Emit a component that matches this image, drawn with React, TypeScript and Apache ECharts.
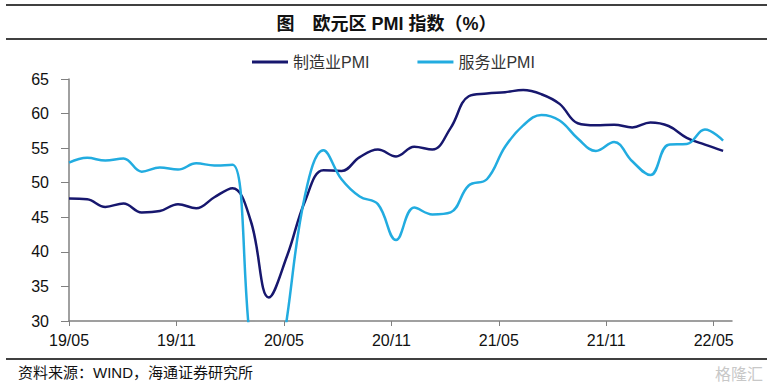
import React, { useEffect, useRef } from "react";
import * as echarts from "echarts";

// ---- data ----
const months: string[] = [
  "19/05", "19/06", "19/07", "19/08", "19/09", "19/10", "19/11", "19/12",
  "20/01", "20/02", "20/03", "20/04", "20/05", "20/06", "20/07", "20/08",
  "20/09", "20/10", "20/11", "20/12", "21/01", "21/02", "21/03", "21/04",
  "21/05", "21/06", "21/07", "21/08", "21/09", "21/10", "21/11", "21/12",
  "22/01", "22/02", "22/03", "22/04", "22/05",
];
const manufacturing: number[] = [
  47.7, 47.6, 46.5, 47.0, 45.7, 45.9, 46.9, 46.3, 47.9, 49.2, 44.5, 33.4,
  39.4, 47.4, 51.8, 51.7, 53.7, 54.8, 53.8, 55.2, 54.8, 57.9, 62.5, 62.9,
  63.1, 63.4, 62.8, 61.4, 58.6, 58.3, 58.4, 58.0, 58.7, 58.2, 56.5, 55.5,
  54.6,
];
const services: number[] = [
  52.9, 53.6, 53.2, 53.5, 51.6, 52.2, 51.9, 52.8, 52.5, 52.6, 26.4, 12.0,
  30.5, 48.3, 54.7, 50.5, 48.0, 46.9, 41.7, 46.4, 45.4, 45.7, 49.6, 50.5,
  55.2, 58.3, 59.8, 59.0, 56.4, 54.6, 55.9, 53.1, 51.1, 55.5, 55.6, 57.7,
  56.1,
];
const tickLabels: string[] = ["19/05", "19/11", "20/05", "20/11", "21/05", "21/11", "22/05"];
const seriesNames: string[] = ["制造业PMI", "服务业PMI"];
const yTicks = { min: 30, max: 65, interval: 5 };

// ---- layout (not data) ----
const TICK_STEP = 5.914; // label tick spacing in month units (picture's axis)
const X_MAX = 36.49;
const FONT = "'Liberation Sans', Arial, 'Noto Sans CJK SC', sans-serif";
const CJK = "'Liberation Sans', 'Noto Sans CJK SC', sans-serif";

export default function App() {
  const ref = useRef<HTMLDivElement>(null);
  useEffect(() => {
    if (!ref.current) return;
    const chart = echarts.init(ref.current, undefined, { renderer: "svg" });
    const tickValues = tickLabels.map((_, k) => k * TICK_STEP);
    chart.setOption({
      animation: false,
      backgroundColor: "#ffffff",
      title: {
        text: "图　欧元区 PMI 指数（%）",
        left: "center",
        top: 10,
        textStyle: { fontFamily: CJK, fontSize: 18, fontWeight: "bold", color: "#111" },
      },
      legend: {
        left: 247,
        top: 49,
        itemWidth: 36,
        itemHeight: 3,
        itemGap: 48,
        icon: "rect",
        textStyle: { fontFamily: CJK, fontSize: 16, color: "#333" },
        data: seriesNames,
      },
      grid: { left: 69, right: 41, top: 79, bottom: 68, containLabel: false },
      xAxis: {
        type: "value",
        min: 0,
        max: X_MAX,
        splitLine: { show: false },
        axisLine: { show: true, lineStyle: { color: "#808080", width: 1.5 } },
        axisTick: { show: true, length: 5, customValues: tickValues, lineStyle: { color: "#808080" } },
        axisLabel: {
          customValues: tickValues,
          margin: 11,
          fontFamily: FONT,
          fontSize: 16,
          color: "#111",
          formatter: (v: number) => {
            const k = Math.round(v / TICK_STEP);
            return Math.abs(v - k * TICK_STEP) < 0.01 ? tickLabels[k] ?? "" : "";
          },
        },
      },
      yAxis: {
        type: "value",
        min: yTicks.min,
        max: yTicks.max,
        interval: yTicks.interval,
        splitLine: { show: false },
        axisLine: { show: true, lineStyle: { color: "#808080", width: 1.5 } },
        axisTick: { show: true, length: 8, lineStyle: { color: "#808080" } },
        axisLabel: { margin: 20, fontFamily: FONT, fontSize: 16, color: "#111" },
      },
      graphic: [
        { type: "line", shape: { x1: 6, y1: 5, x2: 767, y2: 5 }, style: { stroke: "#000", lineWidth: 1.5 } },
        { type: "line", shape: { x1: 6, y1: 39, x2: 767, y2: 39 }, style: { stroke: "#000", lineWidth: 1.5 } },
        { type: "line", shape: { x1: 6, y1: 359, x2: 767, y2: 359 }, style: { stroke: "#000", lineWidth: 1.5 } },
        {
          type: "text",
          left: 18,
          top: 365,
          style: { text: "资料来源：WIND，海通证券研究所", font: `15px ${CJK}`, fill: "#111" },
        },
        {
          type: "text",
          right: 10,
          top: 365,
          style: { text: "格隆汇", font: `16px 'Noto Sans CJK SC', sans-serif`, fill: "#c8c8c8" },
        },
      ],
      series: [
        {
          name: seriesNames[0],
          type: "line",
          data: manufacturing.map((v, i) => [i, v]),
          smooth: 0.4,
          showSymbol: false,
          clip: true,
          lineStyle: { color: "#17176e", width: 2.5 },
          itemStyle: { color: "#17176e" },
        },
        {
          name: seriesNames[1],
          type: "line",
          data: services.map((v, i) => [i, v]),
          smooth: 0.4,
          showSymbol: false,
          clip: true,
          lineStyle: { color: "#22ace0", width: 2.5 },
          itemStyle: { color: "#22ace0" },
        },
      ],
    });
    return () => chart.dispose();
  }, []);
  return (
    <div
      ref={ref}
      style={{ position: "fixed", left: 0, top: 0, width: 773, height: 389, background: "#fff" }}
    />
  );
}

void months;
